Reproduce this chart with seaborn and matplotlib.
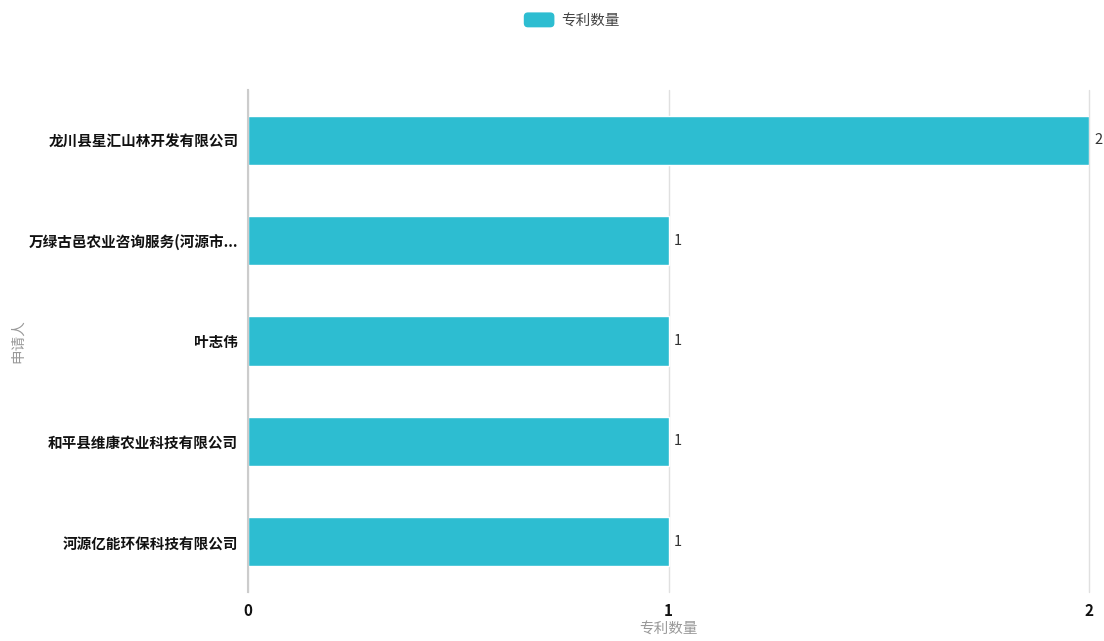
import matplotlib
matplotlib.use("Agg")
import matplotlib.pyplot as plt
import seaborn as sns
import pandas as pd
from matplotlib.patches import Patch, FancyBboxPatch
from matplotlib.legend_handler import HandlerPatch

categories = ["龙川县星汇山林开发有限公司", "万绿古邑农业咨询服务(河源市...", "叶志伟", "和平县维康农业科技有限公司", "河源亿能环保科技有限公司"]
values = [2, 1, 1, 1, 1]
series_name = "专利数量"
x_label = "专利数量"
y_label = "申请人"

sns.set_theme(style="white")
plt.rcParams['font.family'] = ['Noto Sans CJK SC', 'DejaVu Sans']

df = pd.DataFrame({"cat": categories, "val": values})
color = "#2dbdd1"

W, H = 1104, 641
fig = plt.figure(figsize=(W / 100, H / 100), dpi=100)
x0, x1, y0, y1 = 248, 1089, 90, 592
ax = fig.add_axes([x0 / W, 1 - y1 / H, (x1 - x0) / W, (y1 - y0) / H])
sns.barplot(data=df, x="val", y="cat", color=color, width=0.49, ax=ax, saturation=1, zorder=3)

ax.set_xlim(0, 2)
ax.set_ylim(4.5, -0.5)
ax.set_xticks([0, 1, 2])
ax.set_xticklabels(["0", "1", "2"], fontsize=11, fontweight="bold", color="#111111")
for lab in ax.get_yticklabels():
    lab.set_fontsize(10.5)
    lab.set_fontweight("bold")
    lab.set_color("#111111")
ax.tick_params(axis="y", length=0, pad=7)
ax.tick_params(axis="x", length=0, pad=8)
ax.grid(axis="x", color="#e0e0e0", linewidth=1, zorder=0)
for gl in ax.get_xgridlines():
    gl.set_clip_on(False)
for s in ["top", "right", "bottom"]:
    ax.spines[s].set_visible(False)
ax.spines["left"].set_color("#cccccc")
ax.spines["left"].set_linewidth(1.5)
ax.spines["left"].set_zorder(4)

for i, v in enumerate(values):
    ax.text(v + 0.012, i, str(v), va="center", ha="left", fontsize=10.5, color="#333333")

ax.set_xlabel(x_label, fontsize=10.5, color="#999999", labelpad=2)
ax.set_ylabel(y_label, fontsize=10.5, color="#999999", labelpad=0)
ax.yaxis.set_label_coords((25 - x0) / (x1 - x0), 0.5)


class RoundHandler(HandlerPatch):
    def create_artists(self, legend, orig_handle, xdescent, ydescent, width, height, fontsize, trans):
        p = FancyBboxPatch((-xdescent + 1.5, -ydescent + 1.5), width - 3, height - 3,
                           boxstyle="round,pad=1.5,rounding_size=3",
                           facecolor=orig_handle.get_facecolor(), edgecolor="none",
                           transform=trans)
        return [p]


handle = Patch(facecolor=color, edgecolor=color, label=series_name)
fig.legend(handles=[handle], loc="upper center", bbox_to_anchor=(572 / W, 1.0), frameon=False,
           fontsize=10.5, handlelength=2.1, handleheight=1.2, handletextpad=0.5,
           labelcolor="#444444", borderpad=0.35, handler_map={Patch: RoundHandler()})

fig.savefig("out.png", dpi=100)
